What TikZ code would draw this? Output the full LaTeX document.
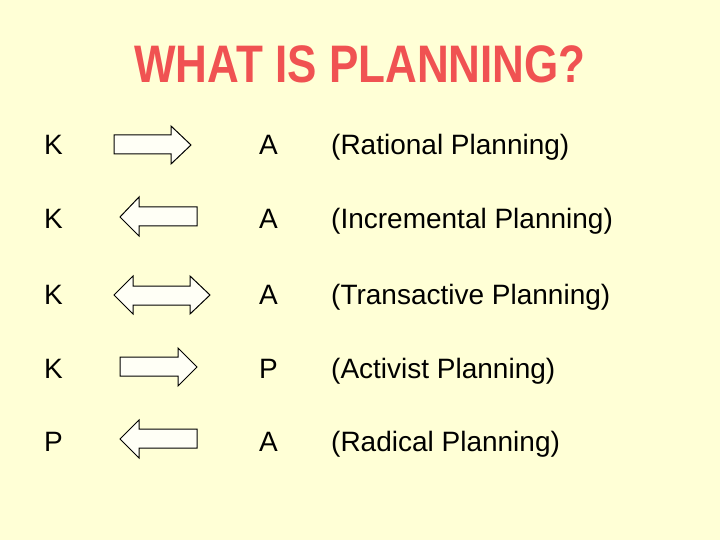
\documentclass[tikz,border=0pt]{standalone}
\usepackage{fontspec}
\setmainfont{Liberation Sans}
\definecolor{bg}{RGB}{255,255,214}
\definecolor{titlered}{RGB}{240,82,82}
\definecolor{arrowfill}{RGB}{255,255,246}
\begin{document}
\begin{tikzpicture}[x=1pt,y=-1pt,
  lbl/.style={anchor=base west,inner sep=0pt,font=\fontsize{28}{32}\selectfont,text=black},
  blockarrow/.style={draw=black,line width=1pt,fill=arrowfill,line join=miter}]
\fill[bg] (0,0) rectangle (720,540);
\useasboundingbox (0,0) rectangle (720,540);
\node[inner sep=0pt,text=titlered,font=\fontsize{44}{48}\selectfont\bfseries] (title) at (360,64) {\scalebox{1}[1.2]{WHAT IS PLANNING?}};
% row 1
\node[lbl] (k1) at (44,155) {K};
\node[lbl] (a1) at (259,155) {A};
\node[lbl] (t1) at (331,155) {(Rational Planning)};
\draw[blockarrow] (114,135) -- (171,135) -- (171,126) -- (191,145) -- (171,164) -- (171,154) -- (114,154) -- cycle;
% row 2
\node[lbl] (k2) at (44,229) {K};
\node[lbl] (a2) at (259,229) {A};
\node[lbl] (t2) at (331,229) {(Incremental Planning)};
\draw[blockarrow] (197,207) -- (139,207) -- (139,197) -- (120,217) -- (139,236) -- (139,226) -- (197,226) -- cycle;
% row 3
\node[lbl] (k3) at (44,304) {K};
\node[lbl] (a3) at (259,304) {A};
\node[lbl] (t3) at (331,304) {(Transactive Planning)};
\draw[blockarrow] (133,286) -- (190,286) -- (190,276) -- (210,295) -- (190,314) -- (190,305) -- (133,305) -- (133,314) -- (114,295) -- (133,276) -- cycle;
% row 4
\node[lbl] (k4) at (44,378) {K};
\node[lbl] (p4) at (259,378) {P};
\node[lbl] (t4) at (331,378) {(Activist Planning)};
\draw[blockarrow] (120,357) -- (178,357) -- (178,348) -- (197,367) -- (178,386) -- (178,376) -- (120,376) -- cycle;
% row 5
\node[lbl] (p5) at (44,451) {P};
\node[lbl] (a5) at (259,451) {A};
\node[lbl] (t5) at (331,451) {(Radical Planning)};
\draw[blockarrow] (197,429) -- (139,429) -- (139,420) -- (120,439) -- (139,458) -- (139,448) -- (197,448) -- cycle;
\end{tikzpicture}
\end{document}
